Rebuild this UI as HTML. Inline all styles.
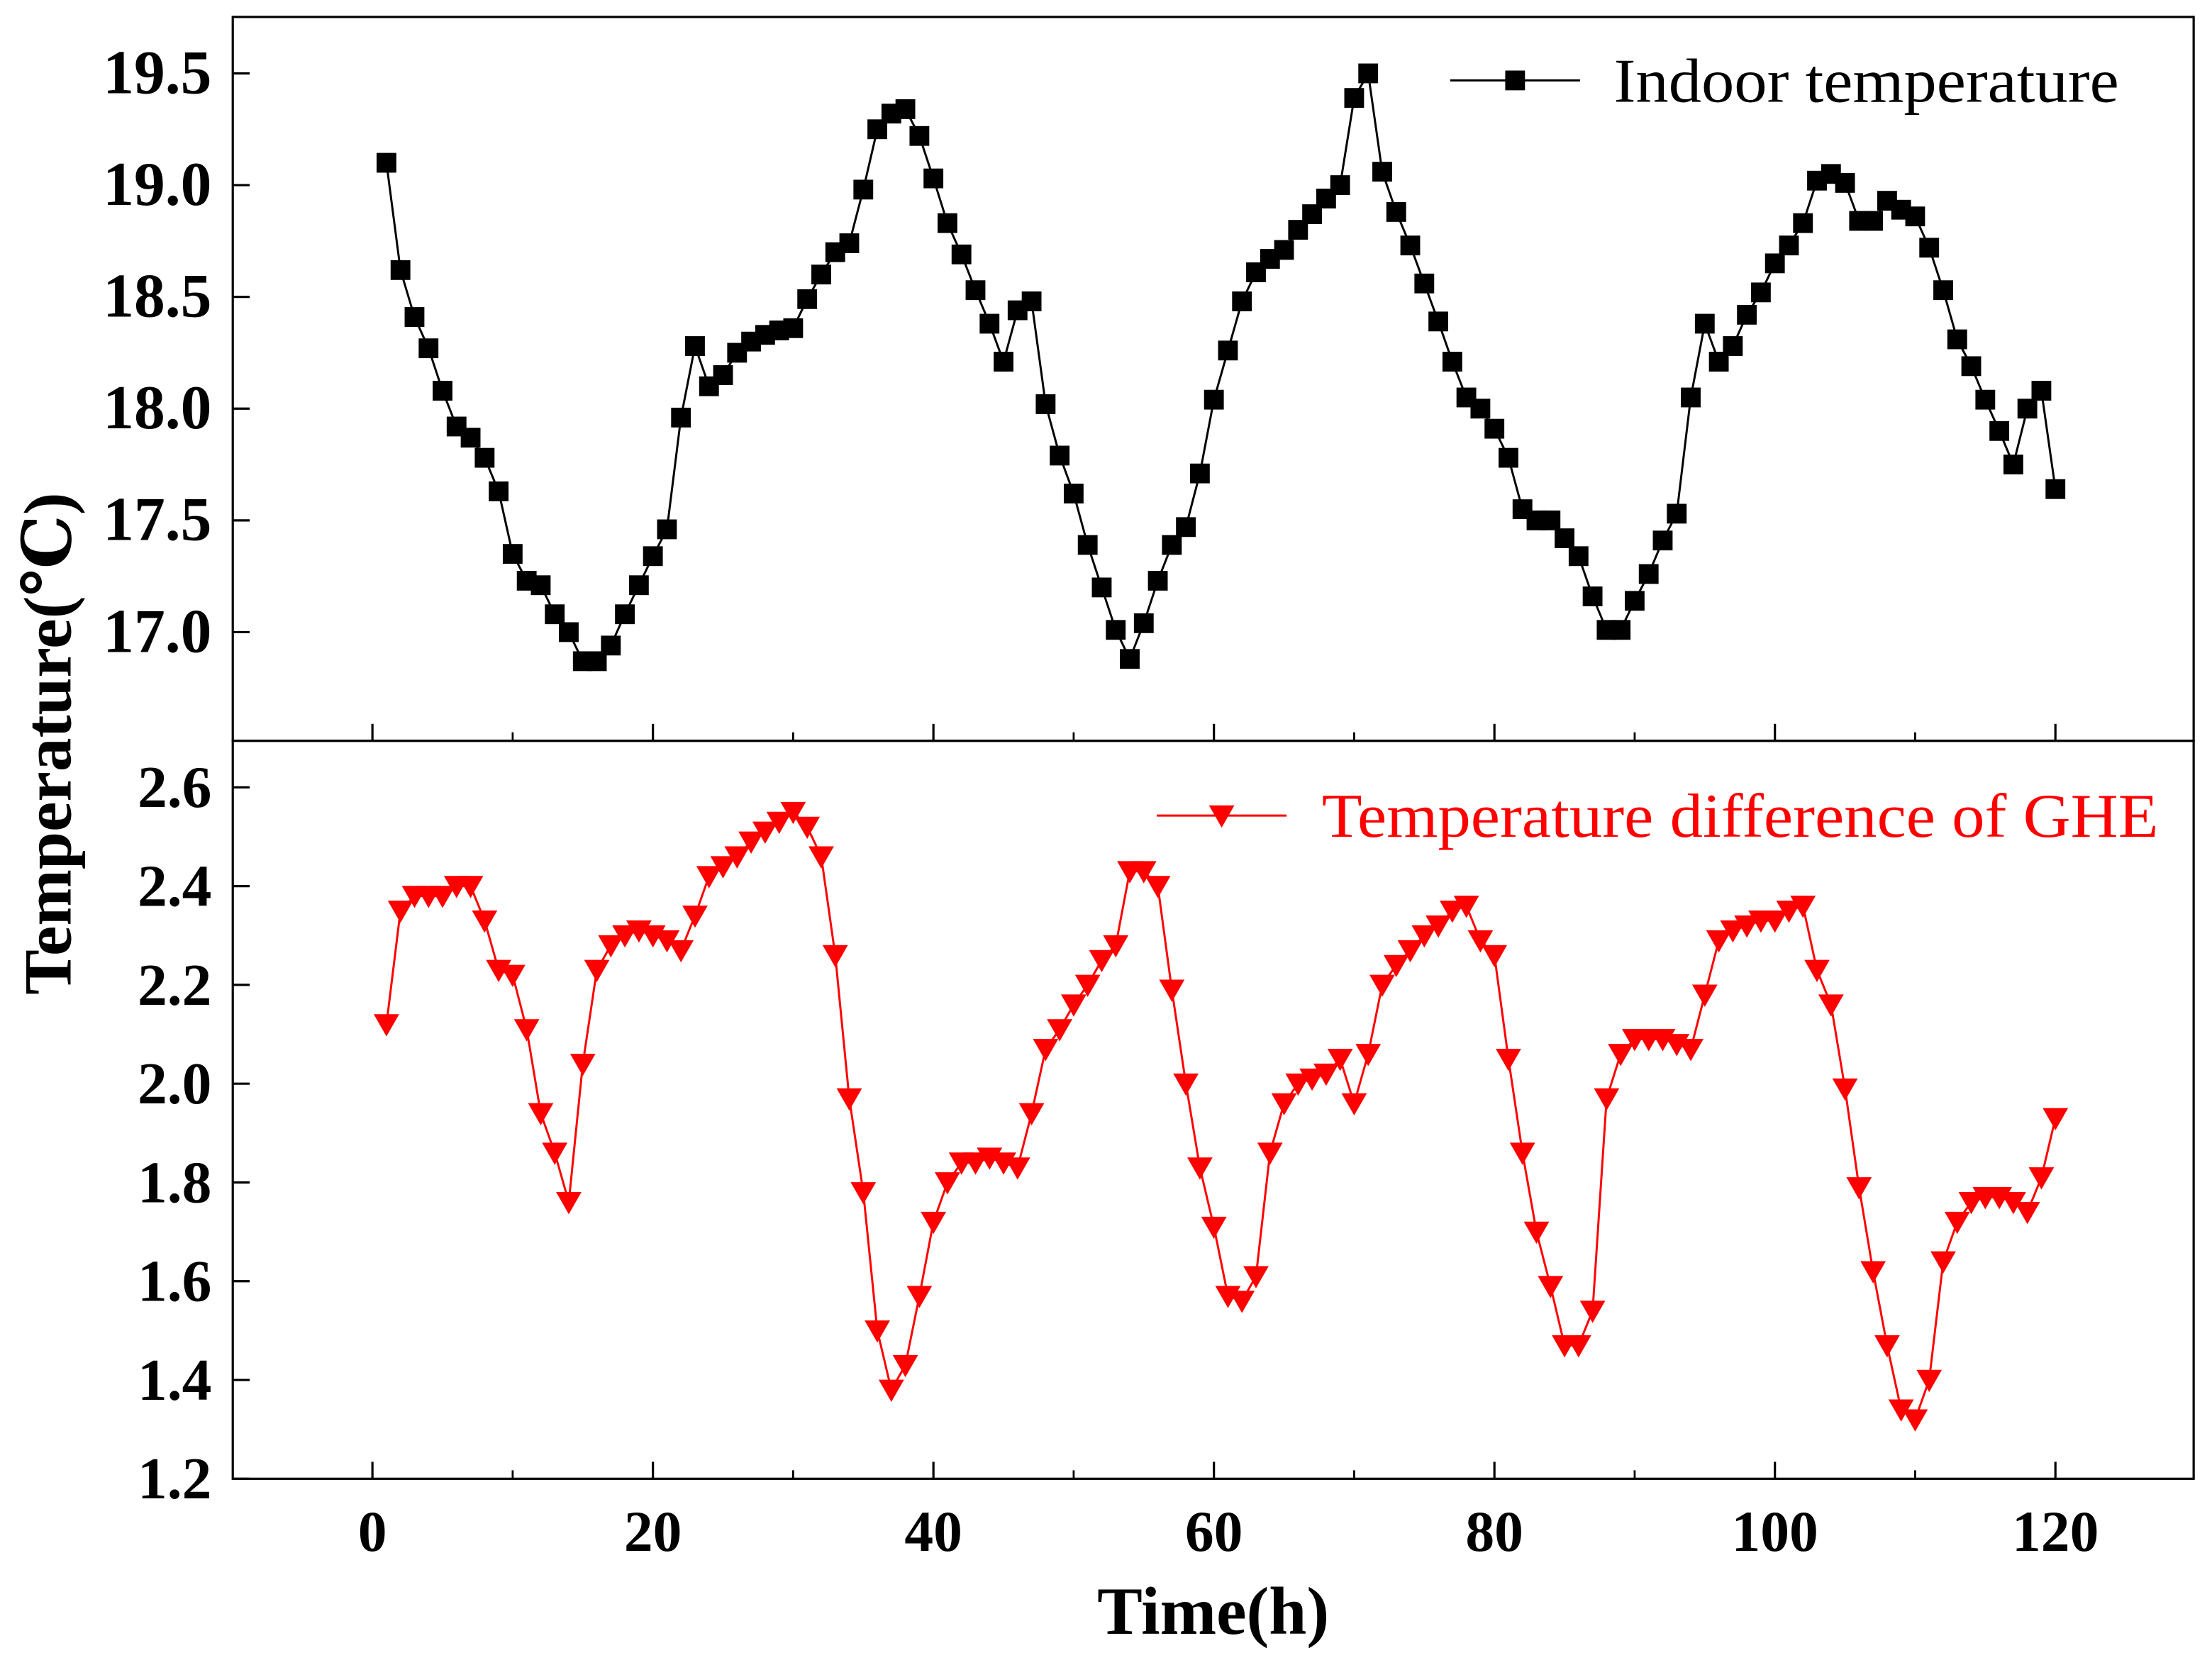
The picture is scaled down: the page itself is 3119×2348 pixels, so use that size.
<!DOCTYPE html>
<html><head><meta charset="utf-8"><style>
html,body{margin:0;padding:0;background:#fff;}
svg{display:block;}
text{font-family:"Liberation Serif","DejaVu Serif",serif;}
</style></head><body>
<svg id="chart" width="3119" height="2348" viewBox="0 0 1568 1180" preserveAspectRatio="none" xmlns="http://www.w3.org/2000/svg">
<rect x="0" y="0" width="1568" height="1180" fill="#fff"/>
<g id="g"></g>
</svg>
<script>
const hours = Array.from({length:120},(_, i)=>i+1);
const indoorTemp = [19.1,18.62,18.41,18.27,18.08,17.92,17.87,17.78,17.63,17.35,17.23,17.21,17.08,17.0,16.87,16.87,16.94,17.08,17.21,17.34,17.46,17.96,18.28,18.1,18.15,18.25,18.3,18.33,18.35,18.36,18.49,18.6,18.7,18.74,18.98,19.25,19.32,19.34,19.22,19.03,18.83,18.69,18.53,18.38,18.21,18.44,18.48,18.02,17.79,17.62,17.39,17.2,17.01,16.88,17.04,17.23,17.39,17.47,17.71,18.04,18.26,18.48,18.61,18.67,18.71,18.8,18.87,18.94,19.0,19.39,19.5,19.06,18.88,18.73,18.56,18.39,18.21,18.05,18.0,17.91,17.78,17.55,17.5,17.5,17.42,17.34,17.16,17.01,17.01,17.14,17.26,17.41,17.53,18.05,18.38,18.21,18.28,18.42,18.52,18.65,18.73,18.83,19.02,19.05,19.01,18.84,18.84,18.93,18.89,18.86,18.72,18.53,18.31,18.19,18.04,17.9,17.75,18.0,18.08,17.64];
const tempDiff = [2.12,2.35,2.38,2.38,2.38,2.4,2.4,2.33,2.23,2.22,2.11,1.94,1.86,1.76,2.04,2.23,2.28,2.3,2.31,2.3,2.29,2.27,2.34,2.42,2.44,2.46,2.49,2.51,2.53,2.55,2.52,2.46,2.26,1.97,1.78,1.5,1.38,1.43,1.57,1.72,1.8,1.84,1.84,1.85,1.84,1.83,1.94,2.07,2.11,2.16,2.2,2.25,2.28,2.43,2.43,2.4,2.19,2.0,1.83,1.71,1.57,1.56,1.61,1.86,1.96,2.0,2.01,2.02,2.05,1.96,2.06,2.2,2.24,2.27,2.3,2.32,2.35,2.36,2.29,2.26,2.05,1.86,1.7,1.59,1.47,1.47,1.54,1.97,2.06,2.09,2.09,2.09,2.08,2.07,2.18,2.29,2.31,2.32,2.33,2.33,2.35,2.36,2.23,2.16,1.99,1.79,1.62,1.47,1.34,1.32,1.4,1.64,1.72,1.76,1.77,1.77,1.76,1.74,1.81,1.93];
const xTicks = [0,20,40,60,80,100,120];
const topTicks = [17.0,17.5,18.0,18.5,19.0,19.5];
const botTicks = [1.2,1.4,1.6,1.8,2.0,2.2,2.4,2.6];

const NS="http://www.w3.org/2000/svg";
const g=document.getElementById('g');
function mk(tag,attrs,parent){const e=document.createElementNS(NS,tag);for(const k in attrs)e.setAttribute(k,attrs[k]);(parent||g).appendChild(e);return e;}
const L=165,R=1555,T=12,M=525,B=1048;
const xs=v=>264+(v-0)*(1457-264)/120;
const yTop=v=>448+(v-17.0)*(52-448)/2.5;
const yBot=v=>1048+(v-1.2)*(558-1048)/1.4;

let f1=mk('rect',{x:L,y:T,width:R-L,height:M-T,fill:'none',stroke:'#000','stroke-width':1.6});


let f2=mk('rect',{x:L,y:M,width:R-L,height:B-M,fill:'none',stroke:'#000','stroke-width':1.6});



xTicks.forEach(v=>{
  const x=xs(v);
  mk('line',{x1:x,x2:x,y1:B,y2:B-12,stroke:'#000','stroke-width':1.6});
  mk('line',{x1:x,x2:x,y1:M,y2:M-12,stroke:'#000','stroke-width':1.6});
  const t=mk('text',{x:x,y:B+51,'text-anchor':'middle','font-size':41,'font-weight':'bold'});
  t.textContent=v;
  
  
});
for(let v=10;v<120;v+=20){const x=xs(v);mk('line',{x1:x,x2:x,y1:B,y2:B-6,stroke:'#000','stroke-width':1.4});mk('line',{x1:x,x2:x,y1:M,y2:M-6,stroke:'#000','stroke-width':1.4});}
topTicks.forEach(v=>{
  const y=yTop(v);
  mk('line',{x1:L,x2:L+12,y1:y,y2:y,stroke:'#000','stroke-width':1.6});
  const t=mk('text',{x:150,y:y+14,'text-anchor':'end','font-size':44,'font-weight':'bold'});
  t.textContent=v.toFixed(1);
  
  
});
botTicks.forEach(v=>{
  const y=yBot(v);
  mk('line',{x1:L,x2:L+12,y1:y,y2:y,stroke:'#000','stroke-width':1.6});
  const t=mk('text',{x:150,y:y+14,'text-anchor':'end','font-size':42,'font-weight':'bold'});
  t.textContent=v.toFixed(1);
  
  
});

let xt=mk('text',{x:860,y:1158,'text-anchor':'middle','font-size':48,'font-weight':'bold'});
xt.textContent='Time(h)';


let yt=mk('text',{x:0,y:0,'text-anchor':'middle','font-size':48,'font-weight':'bold',transform:'translate(50,527) rotate(-90)'});
yt.textContent='Temperature(℃)';



let p1=mk('polyline',{points:hours.map((h,i)=>xs(h)+','+yTop(indoorTemp[i])).join(' '),fill:'none',stroke:'#000','stroke-width':1.5});


hours.forEach((h,i)=>{
  const r=mk('rect',{x:xs(h)-7,y:yTop(indoorTemp[i])-7,width:14,height:14,fill:'#000'});
  
  
});
let p2=mk('polyline',{points:hours.map((h,i)=>xs(h)+','+yBot(tempDiff[i])).join(' '),fill:'none',stroke:'#f00','stroke-width':1.5});


function tri(cx,cy,s){return `${cx-s},${cy-s*0.8} ${cx+s},${cy-s*0.8} ${cx},${cy+s*0.95}`;}
hours.forEach((h,i)=>{
  const t=mk('polygon',{points:tri(xs(h),yBot(tempDiff[i]),9),fill:'#f00'});
  
  
});

let lg1=mk('g',{});


mk('line',{x1:1028,x2:1120,y1:57,y2:57,stroke:'#000','stroke-width':1.5},lg1);
mk('rect',{x:1067,y:50,width:14,height:14,fill:'#000'},lg1);
let lt1=mk('text',{x:1144,y:72,'font-size':44,textLength:358,lengthAdjust:'spacingAndGlyphs'},lg1);lt1.textContent='Indoor temperature';
let lg2=mk('g',{});


mk('line',{x1:820,x2:912,y1:578,y2:578,stroke:'#f00','stroke-width':1.5},lg2);
mk('polygon',{points:tri(866,578,9),fill:'#f00'},lg2);
let lt2=mk('text',{x:937,y:593,'font-size':44,fill:'#f00',textLength:593,lengthAdjust:'spacingAndGlyphs'},lg2);lt2.textContent='Temperature difference of GHE';
</script>
</body></html>
